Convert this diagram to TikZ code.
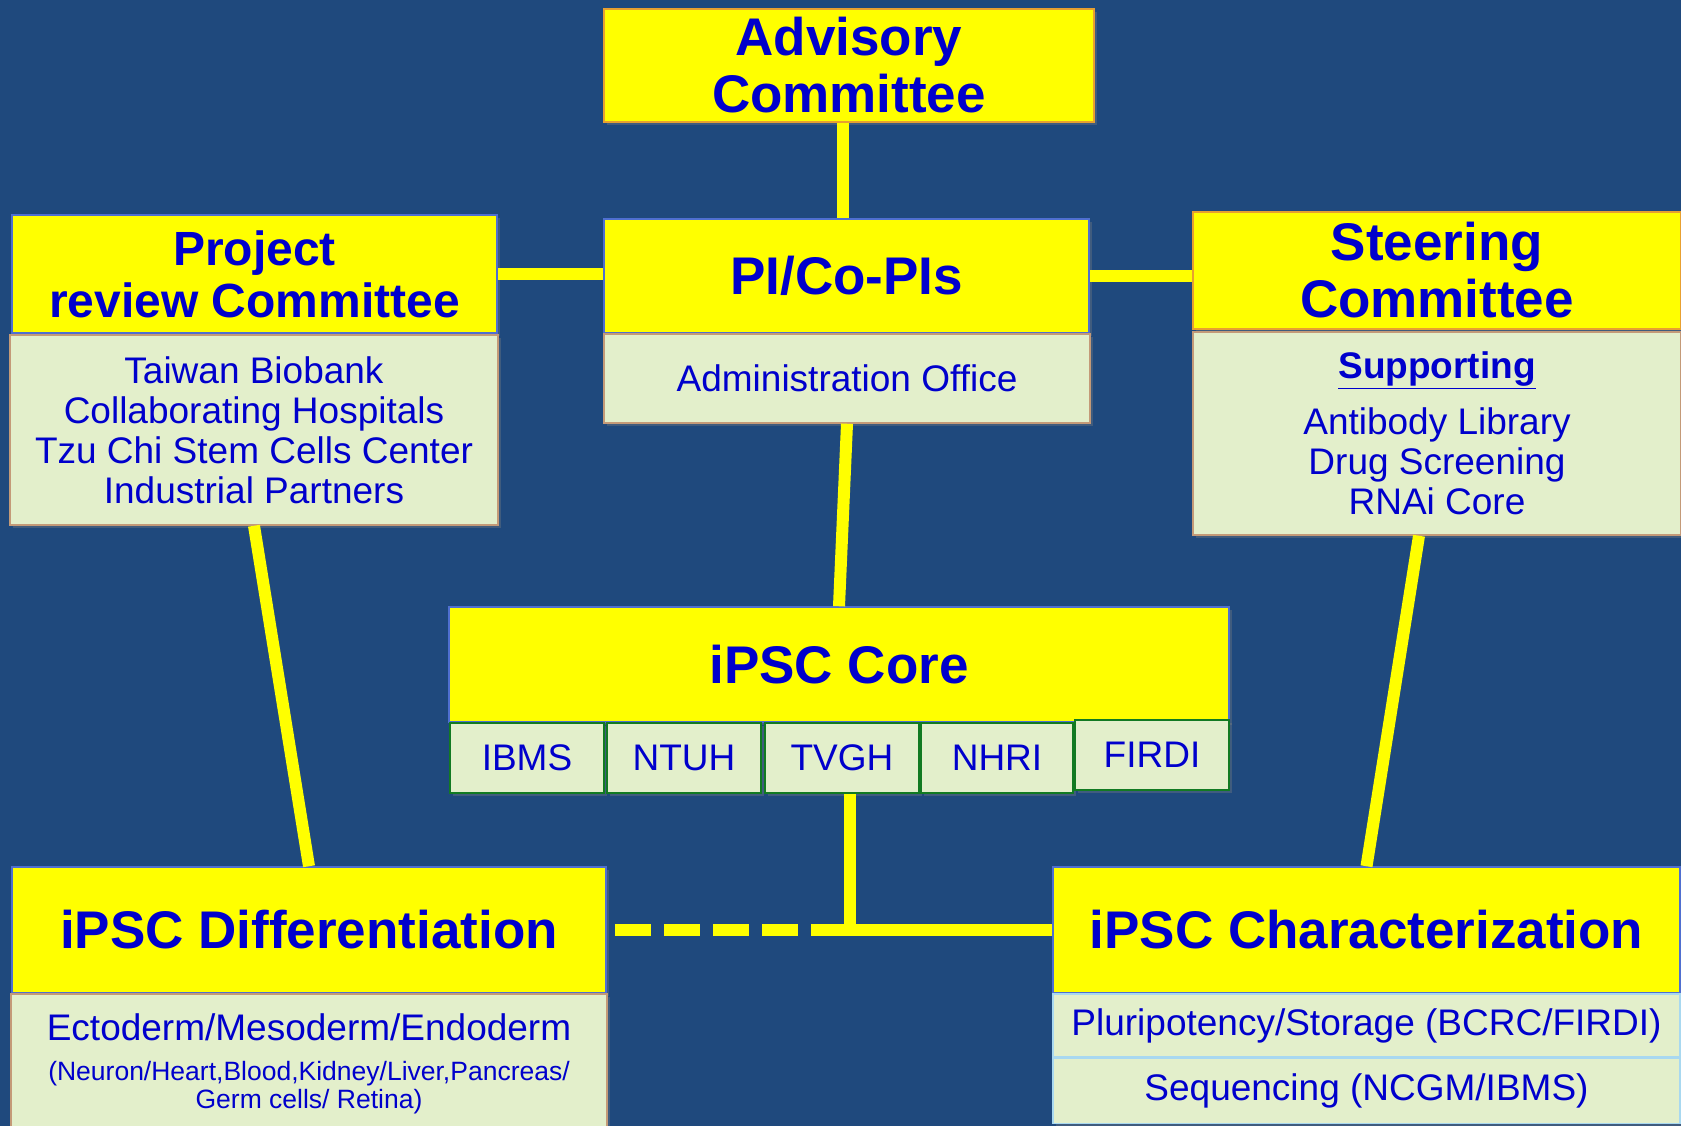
\documentclass[tikz,border=0pt]{standalone}
\usepackage{fontspec}
\setmainfont{Liberation Sans}
\usetikzlibrary{shadows}
\definecolor{bg}{HTML}{1F497D}
\definecolor{ylw}{HTML}{FFFF00}
\definecolor{txt}{HTML}{0000CC}
\definecolor{pale}{HTML}{E3EFCB}
\definecolor{tanedge}{HTML}{C49A78}
\definecolor{orng}{HTML}{E8A030}
\definecolor{edgeblue}{HTML}{4F6FD0}
\definecolor{dgreen}{HTML}{127A22}
\definecolor{lcyan}{HTML}{A8D8F0}
\begin{document}
\begin{tikzpicture}[x=1pt,y=-1pt,
  box/.style={rectangle, inner sep=0pt, align=center, text=txt, line width=1.5pt,
    drop shadow={opacity=0.35, shadow xshift=3pt, shadow yshift=-3pt}},
  ybox/.style={box, fill=ylw, draw=#1, font=\bfseries\fontsize{53}{57}\selectfont},
  ybox/.default=edgeblue,
  gbox/.style={box, fill=pale, draw=#1, font=\fontsize{37}{40}\selectfont},
  gbox/.default=tanedge,
  sbox/.style={gbox=dgreen, minimum height=70pt},
  txtline/.style={inner sep=0pt, anchor=base, text=txt, align=center},
  link/.style={draw=ylw, line width=12pt},
]
\fill[bg] (0,0) rectangle (1681,1126);
\useasboundingbox (0,0) rectangle (1681,1126);

% top
\node[ybox=orng, minimum width=490pt, minimum height=113pt] (adv) at (849,65.5) {Advisory\\Committee};
\node[ybox, minimum width=485pt, minimum height=114pt] (pi) at (846.5,276) {PI/Co-PIs};
\node[gbox, minimum width=486pt, minimum height=89pt] (admin) at (847,378.5) {Administration Office};

% left
\node[ybox, minimum width=485pt, minimum height=118pt, font=\bfseries\fontsize{48}{52}\selectfont] (proj) at (254.5,274) {Project\\review Committee};
\node[gbox, minimum width=488pt, minimum height=190pt] (projg) at (254,430) {Taiwan Biobank\\Collaborating Hospitals\\Tzu Chi Stem Cells Center\\Industrial Partners};

% right
\node[ybox=orng, minimum width=488pt, minimum height=117pt] (steer) at (1437,270.5) {Steering\\Committee};
\node[gbox, minimum width=488pt, minimum height=203pt] (steerg) at (1437,433.5) {\underline{\textbf{Supporting}}\\[16pt]Antibody Library\\Drug Screening\\RNAi Core};

% core
\node[ybox, minimum width=780pt, minimum height=115pt] (core) at (839,664.5) {iPSC Core};
\node[sbox, minimum width=154pt] (ibms) at (527,758) {IBMS};
\node[sbox, minimum width=154pt] (ntuh) at (684,758) {NTUH};
\node[sbox, minimum width=154pt] (tvgh) at (842,758) {TVGH};
\node[sbox, minimum width=152pt] (nhri) at (997,758) {NHRI};
\node[sbox, minimum width=154pt] (firdi) at (1152,755) {FIRDI};

% bottom left
\node[ybox, minimum width=594pt, minimum height=126pt] (diff) at (309,930) {iPSC Differentiation};
\node[gbox, minimum width=596pt, minimum height=140pt] (diffg) at (309,1064) {};
\node[txtline, font=\fontsize{37}{40}\selectfont] (diffa) at (309,1040) {Ectoderm/Mesoderm/Endoderm};
\node[txtline, font=\fontsize{26.5}{28}\selectfont] (diffb) at (309,1108) {(Neuron/Heart,Blood,Kidney/Liver,Pancreas/\\Germ cells/ Retina)};

% bottom right
\node[ybox, minimum width=627pt, minimum height=126pt] (char) at (1366.5,930) {iPSC Characterization};
\node[gbox=lcyan, minimum width=627pt, minimum height=63pt] (plur) at (1366.5,1025.5) {Pluripotency/Storage (BCRC/FIRDI)};
\node[gbox=lcyan, minimum width=627pt, minimum height=65pt] (seq) at (1366.5,1091) {Sequencing (NCGM/IBMS)};

% connectors
\draw[link] (adv.south -| 843,0) -- (pi.north -| 843,0);
\draw[link] (proj.east) -- (proj.east -| pi.west);
\draw[link] (pi.east) -- (pi.east -| steer.west);
\draw[link] (admin.south) -- (core.north);
\draw[link] (projg.south) -- (diff.north);
\draw[link] ([xshift=-18pt]steerg.south) -- (char.north);
\coordinate (jn) at (850,930);
\draw[link] ([xshift=8pt]tvgh.south) -- (jn);
\draw[link] ([xshift=-6pt]jn) -- (char.west);
\draw[link, dash pattern=on 36pt off 13pt] ([xshift=8pt]diff.east) -- ([xshift=-4pt]jn);
\end{tikzpicture}
\end{document}
